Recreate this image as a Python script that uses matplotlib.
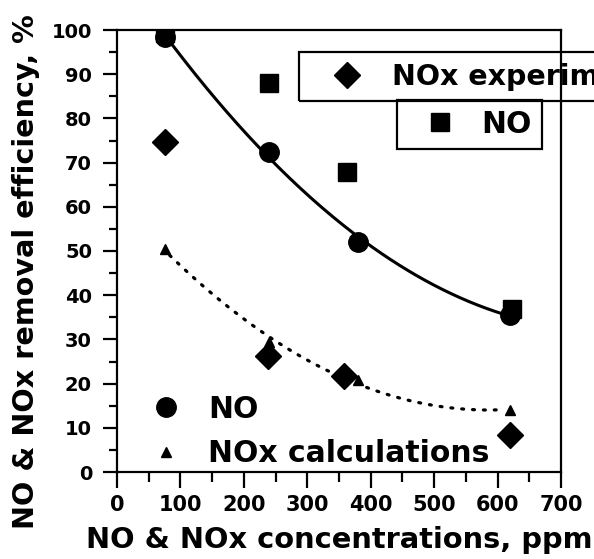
import numpy as np
import matplotlib
matplotlib.use("Agg")
import matplotlib.pyplot as plt

# ---- data ----
no_calc_x = [75, 240, 380, 620]
no_calc_y = [98.5, 72.5, 52.0, 35.5]

no_exp_x = [75, 240, 362, 622]
no_exp_y = [99.3, 88.0, 67.8, 36.8]

nox_exp_x = [75, 238, 358, 620]
nox_exp_y = [74.6, 26.3, 21.8, 8.4]

nox_calc_x = [75, 240, 380, 620]
nox_calc_y = [50.5, 29.5, 20.8, 14.0]

x_ticks = [0, 100, 200, 300, 400, 500, 600, 700]
y_ticks = [0, 10, 20, 30, 40, 50, 60, 70, 80, 90, 100]

W, H = 594, 559
FONT = "DejaVu Sans"
plt.rcParams["font.family"] = FONT
plt.rcParams["font.weight"] = "bold"

fig = plt.figure(figsize=(W / 100, H / 100), dpi=100)
ax = fig.add_axes([117 / W, 1 - 472 / H, (561 - 117) / W, (472 - 30) / H])

# trend curves
c1 = np.polyfit(no_calc_x, no_calc_y, 2)
xs1 = np.linspace(no_calc_x[0], no_calc_x[-1], 200)
ax.plot(xs1, np.polyval(c1, xs1), color="black", lw=2.2, zorder=2)

c2 = np.polyfit(nox_calc_x, nox_calc_y, 2)
xs2 = np.linspace(nox_calc_x[0] + 8, nox_calc_x[-1] - 12, 200)
ax.plot(xs2, np.polyval(c2, xs2), color="black", lw=2.3,
        ls=(0, (0.6, 2.8)), dash_capstyle="round", zorder=2)

# markers
h_no, = ax.plot(no_calc_x, no_calc_y, "o", color="black", ms=14, ls="none", zorder=3)
h_sq, = ax.plot(no_exp_x, no_exp_y, "s", color="black", ms=13.5, ls="none", zorder=3)
h_di, = ax.plot(nox_exp_x, nox_exp_y, "D", color="black", ms=13, ls="none", zorder=3)
h_tr, = ax.plot(nox_calc_x, nox_calc_y, "^", color="black", ms=7, ls="none", zorder=3)

ax.set_xlim(0, 700)
ax.set_ylim(0, 100)
ax.set_xticks(x_ticks)
ax.set_yticks(y_ticks)
ax.set_xticks(np.arange(50, 700, 100), minor=True)
ax.set_yticks(np.arange(5, 100, 10), minor=True)
ax.set_xticklabels([str(v) for v in x_ticks], fontsize=15, fontweight="bold")
ax.set_yticklabels([str(v) for v in y_ticks], fontsize=14, fontweight="bold")
ax.tick_params(axis="x", which="major", direction="out", length=11.5, width=1.6, pad=5)
ax.tick_params(axis="x", which="minor", direction="out", length=7, width=1.6)
ax.tick_params(axis="y", which="major", direction="out", length=10, width=1.6, pad=8)
ax.tick_params(axis="y", which="minor", direction="out", length=5.5, width=1.6)
for s in ax.spines.values():
    s.set_linewidth(1.6)

ax.set_xlabel("NO & NOx concentrations, ppm", fontsize=20.8, fontweight="bold")
ax.xaxis.set_label_coords(0.5, (472 - 526) / 442)
ax.set_ylabel("NO & NOx removal efficiency, %", fontsize=20.6, fontweight="bold")
ax.yaxis.set_label_coords((40 - 117) / 444, (472 - 272) / 442)

LEGPROP = {"family": FONT, "weight": "bold", "size": 21.5}

# lower-left legend (no frame)
leg_low = ax.legend([h_no, h_tr], ["NO", "NOx calculations"],
                    loc="lower left", bbox_to_anchor=(139 / W, 1 - 474 / H),
                    bbox_transform=fig.transFigure, frameon=False, prop=LEGPROP,
                    handlelength=1.4, handletextpad=0.72, labelspacing=0.52,
                    borderpad=0.2, borderaxespad=0)
ax.add_artist(leg_low)

# upper boxed legends
leg1 = ax.legend([h_di], ["NOx experiments"], loc="upper left",
                 bbox_to_anchor=(299 / W, 1 - 52 / H), bbox_transform=fig.transFigure,
                 frameon=True, fancybox=False, framealpha=1, facecolor="none",
                 edgecolor="black", prop={"family": FONT, "weight": "bold", "size": 20.5},
                 handlelength=2.63, handletextpad=0.26, borderpad=0.37, borderaxespad=0)
leg1.get_frame().set_linewidth(1.6)
ax.add_artist(leg1)

leg2 = ax.legend([h_sq], ["NO"], loc="upper left",
                 bbox_to_anchor=(397 / W, 1 - 100 / H), bbox_transform=fig.transFigure,
                 frameon=True, fancybox=False, framealpha=1, facecolor="none",
                 edgecolor="black", prop=LEGPROP,
                 handlelength=2.2, handletextpad=0.3, borderpad=0.33, borderaxespad=0)
leg2.get_frame().set_linewidth(1.6)

fig.savefig("out.png", dpi=100)
